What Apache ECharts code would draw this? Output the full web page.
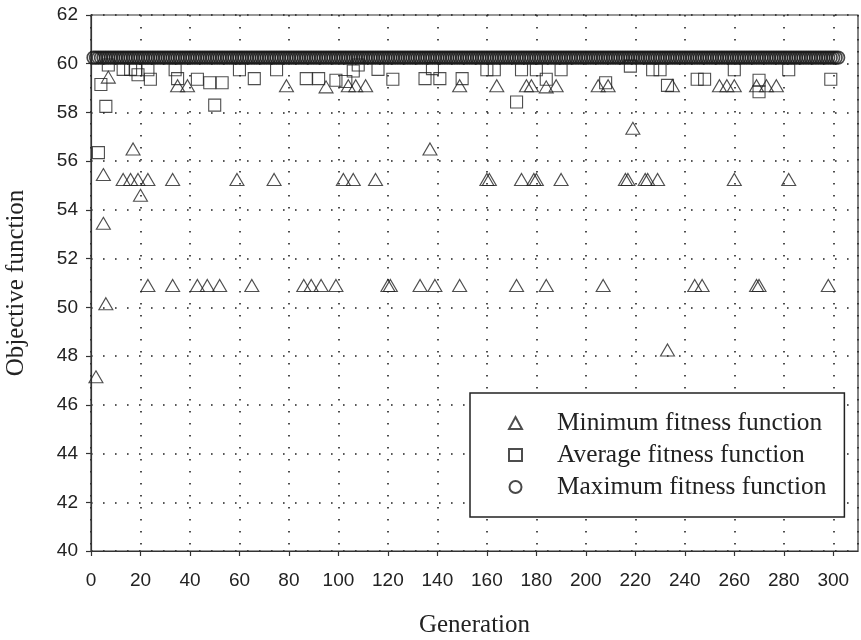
<!DOCTYPE html>
<html>
<head>
<meta charset="utf-8">
<script src="https://cdn.jsdelivr.net/npm/echarts@6/dist/echarts.min.js"></script>
<style>html,body{margin:0;padding:0;background:#fff}#c{width:861px;height:640px}</style>
</head>
<body>
<div id="c"></div>
<script>
// Minimum fitness (triangles): generation / value
const minGen = [2, 5, 5, 6, 7, 13, 16, 17, 19, 20, 23, 23, 33, 33, 35, 39, 43, 47, 52, 59, 65, 74, 79, 86, 89, 93, 95, 99, 102, 104, 106, 107, 111, 115, 120, 121, 133, 137, 139, 149, 149, 160, 161, 164, 172, 174, 176, 178, 179, 180, 184, 184, 188, 190, 205, 207, 209, 216, 217, 219, 224, 225, 229, 233, 235, 244, 247, 254, 257, 260, 260, 269, 269, 270, 273, 277, 282, 298];
const minVal = [47.15, 55.45, 53.45, 50.15, 59.45, 55.25, 55.25, 56.5, 55.25, 54.6, 55.25, 50.9, 55.25, 50.9, 59.1, 59.1, 50.9, 50.9, 50.9, 55.25, 50.9, 55.25, 59.1, 50.9, 50.9, 50.9, 59.05, 50.9, 55.25, 59.1, 55.25, 59.1, 59.1, 55.25, 50.9, 50.9, 50.9, 56.5, 50.9, 59.1, 50.9, 55.25, 55.25, 59.1, 50.9, 55.25, 59.1, 59.1, 55.25, 55.25, 59.05, 50.9, 59.1, 55.25, 59.1, 50.9, 59.1, 55.25, 55.25, 57.35, 55.25, 55.25, 55.25, 48.25, 59.1, 50.9, 50.9, 59.1, 59.1, 59.1, 55.25, 59.1, 50.9, 50.9, 59.1, 59.1, 55.25, 50.9];

// Average fitness (squares): generation / value
const avgGen = [3, 4, 6, 7, 13, 16, 18, 19, 23, 24, 34, 35, 43, 48, 50, 53, 60, 66, 75, 87, 92, 99, 103, 106, 108, 116, 122, 135, 138, 141, 150, 160, 163, 172, 174, 180, 184, 190, 208, 218, 227, 230, 233, 245, 248, 260, 270, 270, 282, 299];
const avgVal = [56.35, 59.15, 58.25, 59.95, 59.77, 59.77, 59.75, 59.55, 59.75, 59.36, 59.75, 59.39, 59.36, 59.22, 58.3, 59.22, 59.75, 59.39, 59.75, 59.39, 59.39, 59.32, 59.27, 59.7, 59.95, 59.77, 59.36, 59.39, 59.8, 59.39, 59.39, 59.75, 59.75, 58.43, 59.75, 59.75, 59.36, 59.75, 59.22, 59.9, 59.75, 59.75, 59.11, 59.36, 59.36, 59.75, 59.32, 58.85, 59.75, 59.36];

// Maximum fitness (circles): one value per generation, generations 1..302
const maxVal = [
60.25,60.25,60.25,60.25,60.25,60.25,60.25,60.25,60.25,60.25,60.25,60.25,60.25,60.25,60.25,60.25,60.25,60.25,60.25,60.25,
60.25,60.25,60.25,60.25,60.25,60.25,60.25,60.25,60.25,60.25,60.25,60.25,60.25,60.25,60.25,60.25,60.25,60.25,60.25,60.25,
60.25,60.25,60.25,60.25,60.25,60.25,60.25,60.25,60.25,60.25,60.25,60.25,60.25,60.25,60.25,60.25,60.25,60.25,60.25,60.25,
60.25,60.25,60.25,60.25,60.25,60.25,60.25,60.25,60.25,60.25,60.25,60.25,60.25,60.25,60.25,60.25,60.25,60.25,60.25,60.25,
60.25,60.25,60.25,60.25,60.25,60.25,60.25,60.25,60.25,60.25,60.25,60.25,60.25,60.25,60.25,60.25,60.25,60.25,60.25,60.25,
60.25,60.25,60.25,60.25,60.25,60.25,60.25,60.25,60.25,60.25,60.25,60.25,60.25,60.25,60.25,60.25,60.25,60.25,60.25,60.25,
60.25,60.25,60.25,60.25,60.25,60.25,60.25,60.25,60.25,60.25,60.25,60.25,60.25,60.25,60.25,60.25,60.25,60.25,60.25,60.25,
60.25,60.25,60.25,60.25,60.25,60.25,60.25,60.25,60.25,60.25,60.25,60.25,60.25,60.25,60.25,60.25,60.25,60.25,60.25,60.25,
60.25,60.25,60.25,60.25,60.25,60.25,60.25,60.25,60.25,60.25,60.25,60.25,60.25,60.25,60.25,60.25,60.25,60.25,60.25,60.25,
60.25,60.25,60.25,60.25,60.25,60.25,60.25,60.25,60.25,60.25,60.25,60.25,60.25,60.25,60.25,60.25,60.25,60.25,60.25,60.25,
60.25,60.25,60.25,60.25,60.25,60.25,60.25,60.25,60.25,60.25,60.25,60.25,60.25,60.25,60.25,60.25,60.25,60.25,60.25,60.25,
60.25,60.25,60.25,60.25,60.25,60.25,60.25,60.25,60.25,60.25,60.25,60.25,60.25,60.25,60.25,60.25,60.25,60.25,60.25,60.25,
60.25,60.25,60.25,60.25,60.25,60.25,60.25,60.25,60.25,60.25,60.25,60.25,60.25,60.25,60.25,60.25,60.25,60.25,60.25,60.25,
60.25,60.25,60.25,60.25,60.25,60.25,60.25,60.25,60.25,60.25,60.25,60.25,60.25,60.25,60.25,60.25,60.25,60.25,60.25,60.25,
60.25,60.25,60.25,60.25,60.25,60.25,60.25,60.25,60.25,60.25,60.25,60.25,60.25,60.25,60.25,60.25,60.25,60.25,60.25,60.25,
60.25,60.25
];

const seriesNames = ['Minimum fitness function', 'Average fitness function', 'Maximum fitness function'];
const xTitle = 'Generation';
const yTitle = 'Objective function';

const pairs = (g, v) => g.map((x, i) => [x, v[i]]);
const maxData = maxVal.map((v, i) => [i + 1, v]);

const ink = '#222';
const hollow = (w) => ({ color: 'transparent', borderColor: ink, borderWidth: w });
const dotted = { color: '#222', width: 1.6, type: [1.6, 10.4] };

const chart = echarts.init(document.getElementById('c'), null, { renderer: 'canvas' });
chart.setOption({
  animation: false,
  backgroundColor: '#fff',
  grid: { left: 91, right: 3, top: 15, bottom: 89, outerBoundsMode: 'none', containLabel: false, show: true, borderColor: '#333', borderWidth: 1.2, backgroundColor: 'transparent' },
  xAxis: {
    type: 'value', min: 0, max: 310, interval: 20,
    name: xTitle, nameLocation: 'middle', nameGap: 62,
    nameTextStyle: { fontFamily: 'Liberation Serif', fontSize: 25, color: ink },
    axisLine: { show: true, onZero: false, lineStyle: { color: '#333', width: 1.2 } },
    axisTick: { show: true, length: 5, lineStyle: { color: '#333', width: 1.2 } },
    axisLabel: { margin: 20, fontFamily: 'Liberation Sans', fontSize: 19, color: ink, showMaxLabel: false },
    splitLine: { show: true, lineStyle: dotted }
  },
  yAxis: {
    type: 'value', min: 40, max: 62, interval: 2,
    name: yTitle, nameLocation: 'middle', nameGap: 62, nameRotate: 90,
    nameTextStyle: { fontFamily: 'Liberation Serif', fontSize: 25, color: ink },
    axisLine: { show: true, onZero: false, lineStyle: { color: '#333', width: 1.2 } },
    axisTick: { show: true, length: 5, lineStyle: { color: '#333', width: 1.2 } },
    axisLabel: { margin: 13, fontFamily: 'Liberation Sans', fontSize: 19, color: ink },
    splitLine: { show: true, lineStyle: dotted }
  },
  legend: {
    orient: 'vertical', left: 470, top: 393,
    padding: [16, 18, 16, 38], itemGap: 4, itemWidth: 13, itemHeight: 12,
    backgroundColor: '#fff', borderColor: '#222', borderWidth: 1.5,
    textStyle: { fontFamily: 'Liberation Serif', fontSize: 25.4, color: ink, lineHeight: 28, padding: [0, 0, 0, 30] },
    data: seriesNames
  },
  series: [
    { name: seriesNames[0], type: 'scatter', symbol: 'triangle', symbolSize: [14, 12], itemStyle: hollow(1.1), data: pairs(minGen, minVal), z: 3 },
    { name: seriesNames[1], type: 'scatter', symbol: 'rect', symbolSize: 12, itemStyle: hollow(1.1), data: pairs(avgGen, avgVal), z: 3 },
    { name: seriesNames[2], type: 'scatter', symbol: 'circle', symbolSize: 12.5, itemStyle: { color: 'transparent', borderColor: '#1a1a1a', borderWidth: 1.7 }, data: maxData, z: 4 }
  ]
});
</script>
</body>
</html>
